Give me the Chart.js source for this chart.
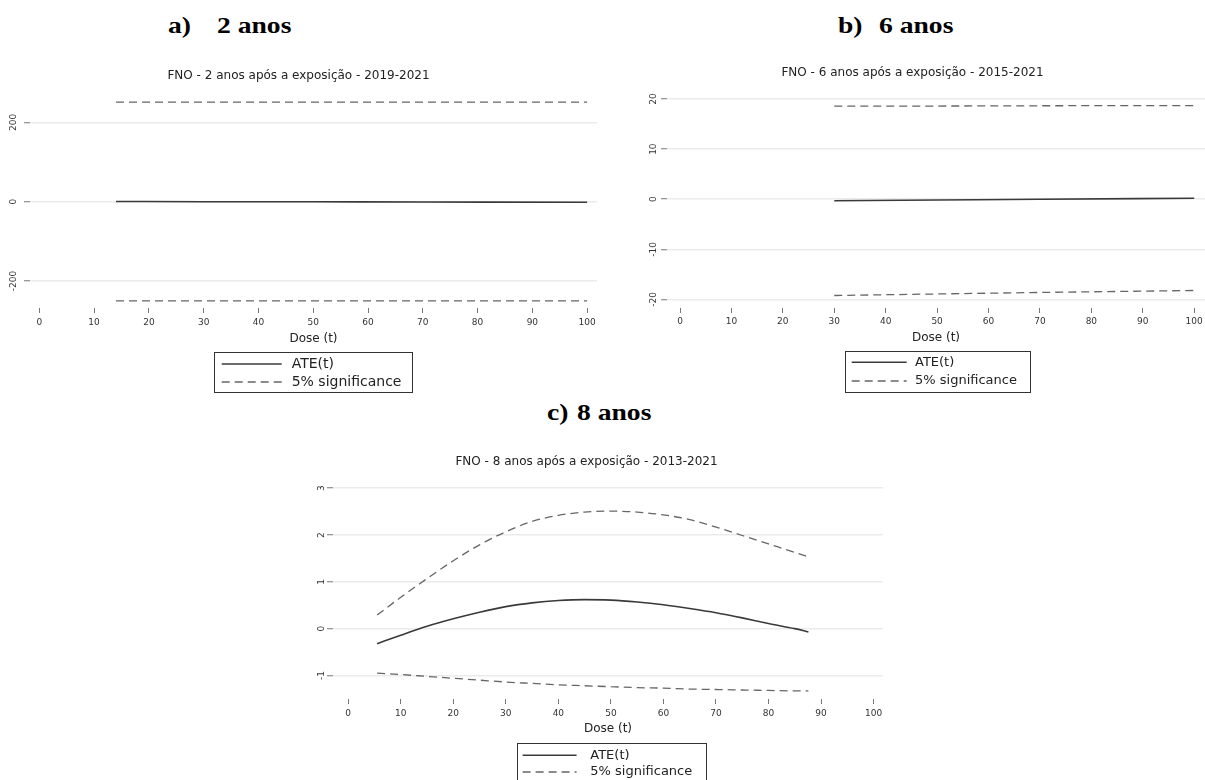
<!DOCTYPE html>
<html>
<head>
<meta charset="utf-8">
<script src="https://cdn.jsdelivr.net/npm/chart.js@4"></script>
<style>
  html, body { margin: 0; padding: 0; background: #fff; overflow: hidden; width: 1205px; height: 780px; position: relative; }
  canvas { position: absolute; }
  .cab { position: absolute; font: bold 23px "Liberation Serif", "Times New Roman", serif; line-height: 23px; color: #000;
         transform: scaleX(1.2); transform-origin: 0 0; white-space: nowrap; }
</style>
</head>
<body>
<div class="cab" style="left:168px;top:14px">a)</div>
<div class="cab" style="left:217px;top:14px">2 anos</div>
<div class="cab" style="left:838px;top:14px">b)</div>
<div class="cab" style="left:879px;top:14px">6 anos</div>
<div class="cab" style="left:547px;top:401px">c)</div>
<div class="cab" style="left:577px;top:401px">8 anos</div>

<canvas id="grafA" width="627" height="345" style="left:0px;top:55px"></canvas>
<canvas id="grafB" width="632" height="345" style="left:620px;top:55px"></canvas>
<canvas id="grafC" width="636" height="340" style="left:290px;top:440px"></canvas>

<script>
// ticks
const xTicks = [0, 10, 20, 30, 40, 50, 60, 70, 80, 90, 100];
const yTicksA = [-200, 0, 200];
const yTicksB = [-20, -10, 0, 10, 20];
const yTicksC = [-1, 0, 1, 2, 3];

// a) 2 anos
const doseA = [14, 30, 50, 70, 100];
const ateA = [0.5, 0, -0.3, -0.8, -1.5];
const supA = [251, 251, 251, 251, 251];
const infA = [-250, -250, -250, -250, -250];

// b) 6 anos
const doseB = [30, 50, 70, 100];
const ateB = [-0.3, -0.15, 0, 0.2];
const supB = [18.6, 18.6, 18.65, 18.7];
const infB = [-19.2, -18.9, -18.6, -18.2];

// c) 8 anos
const doseC = [5.5, 10, 15, 20, 25, 30, 35, 40, 45, 50, 55, 60, 65, 70, 75, 80, 85, 87.6];
const ateC = [-0.32, -0.14, 0.05, 0.21, 0.35, 0.47, 0.55, 0.60, 0.62, 0.61, 0.57, 0.51, 0.43, 0.34, 0.23, 0.11, 0.00, -0.07];
const supC = [0.29, 0.67, 1.07, 1.45, 1.79, 2.07, 2.29, 2.42, 2.49, 2.51, 2.49, 2.43, 2.33, 2.17, 1.99, 1.81, 1.63, 1.53];
const infC = [-0.95, -0.98, -1.02, -1.06, -1.10, -1.14, -1.17, -1.20, -1.22, -1.24, -1.26, -1.27, -1.29, -1.30, -1.31, -1.32, -1.33, -1.33];

Chart.defaults.font.family = "'DejaVu Sans', 'Liberation Sans', sans-serif";

function serie(xs, ys) {
  return xs.map((x, i) => ({ x: x, y: ys[i] }));
}

// rotulos do eixo y girados (estilo Stata)
const rotuloY = {
  id: "rotuloY",
  afterDraw(chart, args, opts) {
    const esc = chart.scales.y;
    const ctx = chart.ctx;
    ctx.save();
    ctx.font = "9px 'DejaVu Sans'";
    ctx.fillStyle = "#333";
    ctx.textAlign = "center";
    ctx.textBaseline = "middle";
    esc.ticks.forEach(t => {
      ctx.save();
      ctx.translate(opts.x, esc.getPixelForValue(t.value));
      ctx.rotate(-Math.PI / 2);
      ctx.fillText(String(t.value), 0, 0);
      ctx.restore();
    });
    ctx.restore();
  }
};

// legenda com caixa
const legendaCaixa = {
  id: "legendaCaixa",
  afterDraw(chart, args, opts) {
    const ctx = chart.ctx;
    const itens = chart.data.datasets.filter(d => !d.semLegenda);
    ctx.save();
    ctx.strokeStyle = "#333";
    ctx.lineWidth = 1;
    ctx.setLineDash([]);
    ctx.strokeRect(Math.round(opts.left) + 0.5, Math.round(opts.top) + 0.5, opts.w, opts.h);
    ctx.font = opts.fonte + "px 'DejaVu Sans'";
    ctx.textBaseline = "middle";
    ctx.textAlign = "left";
    itens.forEach((d, i) => {
      const y = opts.top + opts.linhas[i];
      ctx.strokeStyle = d.borderColor;
      ctx.lineWidth = d.borderWidth;
      ctx.setLineDash(d.borderDash || []);
      ctx.beginPath();
      ctx.moveTo(opts.left + opts.linhaX, y);
      ctx.lineTo(opts.left + opts.linhaX + opts.linhaLen, y);
      ctx.stroke();
      ctx.fillStyle = "#222";
      ctx.fillText(d.label, opts.left + opts.textoX, y);
    });
    ctx.restore();
  }
};

function criarPainel(p) {
  const lhT = 12 * 1.2;
  const lhX = 12 * 1.2;
  const padTop = p.tituloY - p.cy - lhT / 2;
  const padBot = (p.plot.top - p.cy) - padTop - lhT;
  const larguraY = p.plot.left - p.cx;
  const direita = p.cx + p.cw - p.plot.right;
  const alturaX = p.cy + p.ch - p.plot.bottom;
  const padDose = (p.cy + p.ch) - p.doseY - lhX / 2;

  new Chart(document.getElementById(p.id), {
    type: "line",
    data: {
      datasets: [
        { label: "ATE(t)", data: serie(p.dose, p.ate), borderColor: "#3a3a3a", borderWidth: 1.6,
          pointRadius: 0, tension: 0.4, cubicInterpolationMode: "monotone" },
        { label: "5% significance", data: serie(p.dose, p.sup), borderColor: "#666", borderWidth: 1.3,
          borderDash: [8, 5], pointRadius: 0, cubicInterpolationMode: "monotone" },
        { label: "5% significance", data: serie(p.dose, p.inf), borderColor: "#666", borderWidth: 1.3,
          borderDash: [8, 5], pointRadius: 0, cubicInterpolationMode: "monotone", semLegenda: true }
      ]
    },
    options: {
      responsive: false,
      animation: false,
      devicePixelRatio: 1,
      layout: { padding: { left: 0, right: direita, top: 0, bottom: 0 } },
      plugins: {
        legend: { display: false },
        tooltip: { enabled: false },
        title: { display: true, text: p.titulo, color: "#222", font: { size: 12, weight: "normal" },
                 padding: { top: padTop, bottom: padBot } },
        rotuloY: { x: p.rotX - p.cx },
        legendaCaixa: {
          left: p.leg.left - p.cx, top: p.leg.top - p.cy, w: p.leg.w, h: p.leg.h,
          linhaX: p.leg.linhaX, linhaLen: p.leg.linhaLen, textoX: p.leg.textoX,
          linhas: p.leg.linhas, fonte: p.leg.fonte
        }
      },
      scales: {
        x: {
          type: "linear", min: p.xMin, max: p.xMax,
          afterBuildTicks: s => { s.ticks = xTicks.map(v => ({ value: v })); },
          afterFit: s => { s.height = alturaX; },
          border: { display: false },
          grid: { drawOnChartArea: false, drawTicks: true, tickLength: p.tickX, tickColor: "#777", tickWidth: 1,
                  tickBorderDash: [0, p.gapX, 5, 20] },
          ticks: { padding: p.padX, color: "#333", font: { size: 9 }, maxRotation: 0, autoSkip: false },
          title: { display: true, text: "Dose (t)", color: "#222", font: { size: 12 }, padding: { top: 0, bottom: padDose } }
        },
        y: {
          type: "linear", min: p.yMin, max: p.yMax,
          afterBuildTicks: s => { s.ticks = p.yTicks.map(v => ({ value: v })); },
          afterFit: s => { s.width = larguraY; },
          border: { display: false },
          grid: { color: "#ebebeb", lineWidth: 1.5, drawTicks: true, tickLength: 6, tickColor: "#777", tickWidth: 1 },
          ticks: { display: false }
        }
      }
    },
    plugins: [rotuloY, legendaCaixa]
  });
}

criarPainel({
  id: "grafA", cx: 0, cy: 55, cw: 627, ch: 345,
  plot: { left: 30, right: 597, top: 97, bottom: 306 },
  titulo: "FNO - 2 anos após a exposição - 2019-2021", tituloY: 75.7, doseY: 339, rotX: 14,
  xMin: -1.7, xMax: 101.8, yMin: -263, yMax: 264, yTicks: yTicksA,
  tickX: 7, gapX: 2, padX: 4,
  dose: doseA, ate: ateA, sup: supA, inf: infA,
  leg: { left: 214, top: 352, w: 198, h: 40, linhaX: 7.7, linhaLen: 60, textoX: 77.7, linhas: [12, 30], fonte: 14 }
});

criarPainel({
  id: "grafB", cx: 620, cy: 55, cw: 632, ch: 345,
  plot: { left: 667, right: 1205, top: 95, bottom: 305 },
  titulo: "FNO - 6 anos após a exposição - 2015-2021", tituloY: 72.7, doseY: 338, rotX: 654,
  xMin: -2.53, xMax: 102.1, yMin: -21.1, yMax: 20.8, yTicks: yTicksB,
  tickX: 8, gapX: 3, padX: 3,
  dose: doseB, ate: ateB, sup: supB, inf: infB,
  leg: { left: 845, top: 351, w: 185, h: 41, linhaX: 6.7, linhaLen: 55, textoX: 70, linhas: [11.3, 30], fonte: 13 }
});

criarPainel({
  id: "grafC", cx: 290, cy: 440, cw: 636, ch: 340,
  plot: { left: 333, right: 883, top: 484, bottom: 697 },
  titulo: "FNO - 8 anos após a exposição - 2013-2021", tituloY: 461.7, doseY: 729, rotX: 321.7,
  xMin: -2.9, xMax: 101.8, yMin: -1.46, yMax: 3.09, yTicks: yTicksC,
  tickX: 7, gapX: 2, padX: 4,
  dose: doseC, ate: ateC, sup: supC, inf: infC,
  leg: { left: 517, top: 743, w: 189, h: 38, linhaX: 5.6, linhaLen: 54, textoX: 73.3, linhas: [12.3, 29], fonte: 13 }
});
</script>
</body>
</html>
